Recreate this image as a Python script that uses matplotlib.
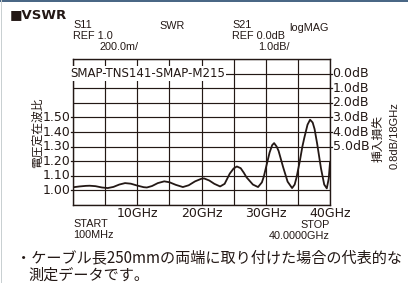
import matplotlib
matplotlib.use("Agg")
import matplotlib.pyplot as plt
from matplotlib.patches import Rectangle

# VSWR-Messkurve (GHz, VSWR)
freq_ghz = [0.1, 1.0, 2.0, 2.6, 3.5, 4.5, 5.4, 6.3, 7.2, 8.1, 9.0, 10.0, 11.0,
            11.5, 12.3, 13.2, 14.2, 15.0, 16.0, 17.1, 18.0, 19.0, 20.0, 20.4,
            21.2, 22.0, 22.9, 23.6, 24.0, 24.4, 25.0, 25.5, 26.1, 26.6, 27.0,
            28.0, 28.8, 29.4, 29.7, 30.0, 30.6, 31.0, 31.3, 31.7, 32.0, 32.7,
            33.4, 34.1, 34.5, 34.8, 35.3, 35.7, 36.0, 36.5, 36.9, 37.3, 37.6,
            38.0, 38.6, 39.1, 39.5, 39.8, 40.0]
vswr = [1.022, 1.027, 1.031, 1.032, 1.029, 1.020, 1.016, 1.024, 1.040, 1.050,
        1.046, 1.033, 1.022, 1.020, 1.030, 1.050, 1.062, 1.056, 1.038, 1.023,
        1.035, 1.062, 1.080, 1.082, 1.068, 1.045, 1.027, 1.045, 1.080, 1.115,
        1.150, 1.164, 1.152, 1.120, 1.090, 1.040, 1.023, 1.055, 1.095, 1.150,
        1.260, 1.310, 1.324, 1.300, 1.270, 1.160, 1.060, 1.016, 1.040, 1.090,
        1.200, 1.300, 1.360, 1.450, 1.484, 1.465, 1.420, 1.320, 1.150, 1.040,
        1.014, 1.080, 1.190]

xtick_pos = [10, 20, 30, 40]
xtick_labels = ["10GHz", "20GHz", "30GHz", "40GHz"]
vswr_ticks = [1.00, 1.10, 1.20, 1.30, 1.40, 1.50]
db_ticks = [0.0, 1.0, 2.0, 3.0, 4.0, 5.0]

W, H = 408, 283
INK = "#231815"
NARROW = ["Liberation Sans Narrow", "Liberation Sans", "DejaVu Sans"]
JP = ["Noto Sans CJK JP", "DejaVu Sans"]


def px(x, y):
    """Pixelkoordinaten (oben links) -> Figurenkoordinaten."""
    return x / W, 1 - y / H


fig = plt.figure(figsize=(W / 100, H / 100), dpi=100)
fig.patch.set_facecolor("white")

# Rahmen: dunkler Balken oben, graue Linie links
fig.patches.append(Rectangle((0, 1 - 2 / H), 1, 2 / H, transform=fig.transFigure,
                             facecolor="#4a6785", edgecolor="none"))
fig.patches.append(Rectangle((1 / W, 0), 1.2 / W, 1, transform=fig.transFigure,
                             facecolor="#c9d0d2", edgecolor="none"))

x0, y0 = px(73, 205)
ax = fig.add_axes([x0, y0, 257 / W, 146 / H])
ax.set_xlim(0, 40)
ax.set_ylim(0.9, 1.9)
ax.set_xticks([i * 5 for i in range(9)])
ax.set_yticks([0.9 + i * 0.1 for i in range(11)])
ax.grid(True, color=INK, lw=0.85)
ax.set_axisbelow(True)
for s in ax.spines.values():
    s.set_color(INK)
    s.set_linewidth(1.0)
ax.tick_params(length=0, labelbottom=False, labelleft=False)

ax.plot(freq_ghz, vswr, color=INK, lw=1.3, zorder=3)

# linke Achse: VSWR
for v in vswr_ticks:
    ax.plot([-0.35, 0], [v, v], color=INK, lw=0.9, clip_on=False)
    ax.text(-0.45, v, f"{v:.2f}", ha="right", va="center", fontsize=9,
            color=INK, family="DejaVu Sans")

# rechte Achse: Einfügedämpfung (0.0dB auf der zweiten Linie von oben)
ax_db = ax.twinx()
ax_db.set_ylim(9, -1)
ax_db.axis("off")
for d in db_ticks:
    ax_db.plot([40, 40.35], [d, d], color=INK, lw=0.9, clip_on=False)
    ax_db.text(40.4, d, f"{d:.1f}dB", ha="left", va="center", fontsize=9,
               color=INK, family="DejaVu Sans")

# x-Beschriftung
for p, lab in zip(xtick_pos, xtick_labels):
    ax.text(p, 0.9 - 0.055, lab, ha="center", va="center", fontsize=9,
            color=INK, family="DejaVu Sans")

# Legende direkt auf der 0.0dB-Linie
ax.text(11.6, 1.8, "SMAP-TNS141-SMAP-M215", ha="center", va="center",
        fontsize=8.5, color=INK, family="DejaVu Sans", zorder=4,
        bbox=dict(boxstyle="square,pad=0.08", fc="white", ec="none"))

# Kopftexte
fig.text(*px(10, 15), "■VSWR", ha="left", va="center", fontsize=9.5,
         fontweight="bold", color=INK, family="DejaVu Sans")
head = [
    (73, 25, "S11", "left"), (73, 36, "REF 1.0", "left"), (138, 47, "200.0m/", "right"),
    (159, 26, "SWR", "left"),
    (232, 25, "S21", "left"), (232, 36, "REF 0.0dB", "left"), (290, 47, "1.0dB/", "right"),
    (289, 28, "logMAG", "left"),
    (73, 224, "START", "left"), (73, 235, "100MHz", "left"),
    (330, 225, "STOP", "right"), (330, 236, "40.0000GHz", "right"),
]
for hx, hy, txt, ha in head:
    fig.text(*px(hx, hy), txt, ha=ha, va="center", fontsize=7.8, color=INK,
             family=NARROW)

# Achsentitel (vertikal)
fig.text(*px(37, 133), "電圧定在波比", rotation=90, ha="center", va="center",
         fontsize=8.5, color=INK, family=JP)
fig.text(*px(378, 138), "挿入損失", rotation=90, ha="center", va="center",
         fontsize=8.5, color=INK, family=JP)
fig.text(*px(395, 136), "0.8dB/18GHz", rotation=90, ha="center", va="center",
         fontsize=8, color=INK, family=NARROW)

# Fußnote
fig.text(*px(16, 258), "・ケーブル長250mmの両端に取り付けた場合の代表的な",
         ha="left", va="center", fontsize=10.9, color=INK, family=JP)
fig.text(*px(28, 275), "測定データです。", ha="left", va="center",
         fontsize=10.9, color=INK, family=JP)

fig.savefig("out.png", dpi=100, facecolor="white")
